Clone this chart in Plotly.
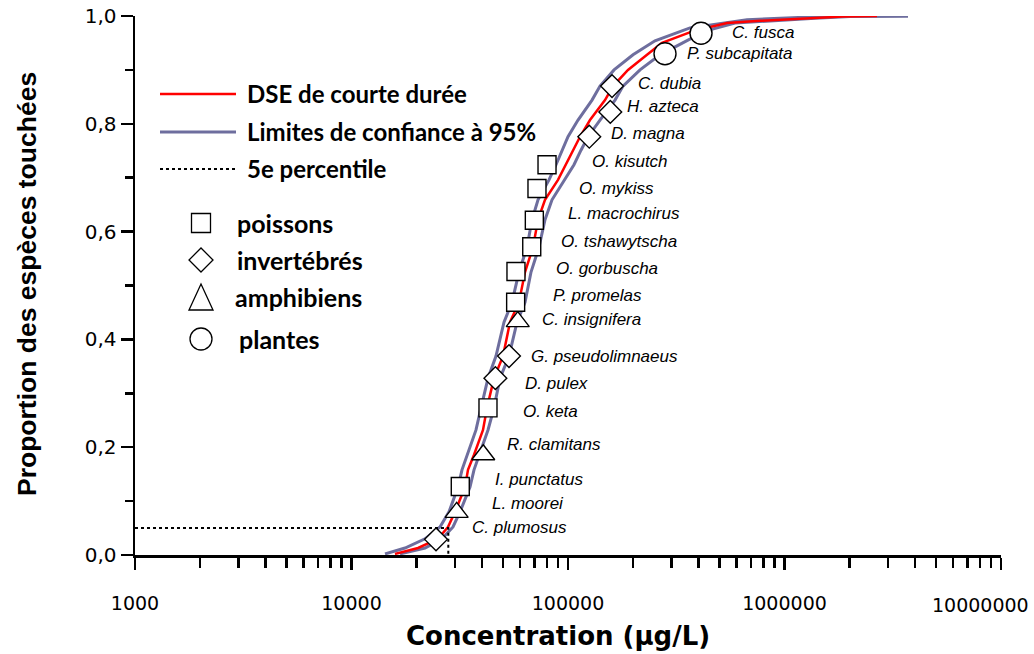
import numpy as np
import plotly.graph_objects as go

# ---------------- data ----------------
species = ["C. plumosus", "L. moorei", "I. punctatus", "R. clamitans", "O. keta",
           "D. pulex", "G. pseudolimnaeus", "C. insignifera", "P. promelas",
           "O. gorbuscha", "O. tshawytscha", "L. macrochirus", "O. mykiss",
           "O. kisutch", "D. magna", "H. azteca", "C. dubia", "P. subcapitata",
           "C. fusca"]
groups = ["invertébrés", "amphibiens", "poissons", "amphibiens", "poissons",
          "invertébrés", "invertébrés", "amphibiens", "poissons",
          "poissons", "poissons", "poissons", "poissons",
          "poissons", "invertébrés", "invertébrés", "invertébrés", "plantes",
          "plantes"]
conc = [24570, 30600, 31800, 40600, 42700, 46200, 53400, 58600, 57300,
        57500, 68000, 69900, 71900, 80000, 125400, 156800, 159700, 280600,
        411500]
prop = [0.029, 0.079, 0.127, 0.186, 0.273, 0.328, 0.369, 0.433, 0.469,
        0.526, 0.572, 0.621, 0.680, 0.724, 0.776, 0.822, 0.870, 0.930, 0.968]

dse_conc = [15880, 20290, 25080, 27900, 30070, 33440, 34520, 36800, 40500,
            42260, 45520, 50100, 53970, 59390, 63310, 68930, 72690, 78310,
            89920, 97900, 105460, 113620, 126380, 148250, 161460, 189290,
            231700, 271800, 377900, 542600, 770900, 1312000, 1863000, 2675000]
dse_prop = [0.002, 0.013, 0.030, 0.052, 0.080, 0.126, 0.158, 0.186, 0.232,
            0.273, 0.328, 0.369, 0.432, 0.469, 0.525, 0.571, 0.622, 0.659,
            0.696, 0.724, 0.751, 0.776, 0.807, 0.844, 0.870, 0.900,
            0.928, 0.950, 0.972, 0.987, 0.991, 0.996, 0.999, 1.0]

upper_conc = [14280, 17670, 21850, 25630, 28210, 31040, 32390, 34160, 37590,
              39650, 42710, 46500, 50630, 55130, 59390, 64670, 68200, 72690,
              81700, 88030, 93830, 100000, 111240, 129100, 140560, 163170,
              199650, 252200, 366000, 671300, 1459000, 3720000]
upper_prop = [0.002, 0.013, 0.030, 0.052, 0.080, 0.126, 0.158, 0.186, 0.232,
              0.273, 0.328, 0.369, 0.432, 0.469, 0.525, 0.571, 0.622, 0.659,
              0.696, 0.724, 0.751, 0.776, 0.807, 0.844, 0.870, 0.900,
              0.928, 0.954, 0.978, 0.993, 0.999, 1.0]

lower_conc = [16750, 21850, 26180, 29430, 31710, 35260, 36800, 38810, 42710,
              45520, 48530, 53400, 58140, 63310, 67480, 73470, 78310, 84360,
              96850, 106580, 114820, 123730, 140560, 164910, 179470, 215100,
              266000, 322300, 429300, 590800, 839100, 1383000, 2007000,
              2761000, 3720000]
lower_prop = [0.002, 0.013, 0.030, 0.052, 0.080, 0.126, 0.158, 0.186, 0.232,
              0.273, 0.328, 0.369, 0.432, 0.469, 0.525, 0.571, 0.622, 0.659,
              0.696, 0.724, 0.751, 0.776, 0.807, 0.844, 0.870, 0.900,
              0.928, 0.946, 0.972, 0.987, 0.991, 0.996, 0.999, 1.0, 1.0]

p5_conc = 28000
p5_prop = 0.05

x_tickvals = [1000, 10000, 100000, 1000000, 10000000]
x_ticktext = ["1000", "10000", "100000", "1000000", "10000000"]
y_tickvals = [0.0, 0.2, 0.4, 0.6, 0.8, 1.0]
y_ticktext = ["0,0", "0,2", "0,4", "0,6", "0,8", "1,0"]

x_title = "Concentration (µg/L)"
y_title = "Proportion des espèces touchées"
legend_lines = ["DSE de courte durée", "Limites de confiance à 95%", "5e percentile"]
legend_groups = ["poissons", "invertébrés", "amphibiens", "plantes"]

# ---------------- styling (layout only) ----------------
RED = "#FF0000"
BLUE = "#6E6E9E"
symbol_map = {"poissons": "square", "invertébrés": "diamond",
              "amphibiens": "triangle-up", "plantes": "circle"}
size_map = {"poissons": 18, "invertébrés": 17.5,
            "amphibiens": 20, "plantes": 22}
# label offsets in pixels (x right, y up) relative to each marker
label_dx = [34, 33, 33, 22, 33, 28, 20, 22, 35, 38, 27, 32, 40, 43, 20, 15, 24, 20, 29]
label_dy = [12, 9, 7, 10, -4, -5, 0, 2, 7, 3, 5, 7, 0, 3, 3, 5, 3, 0, 1]

# the page body margin is removed by a small post-script, so the figure
# fills the whole 1034 x 654 window
W, H = 1034, 654
ML, MR, MT, MB = 135, 33, 16, 99
PW, PH = W - ML - MR, H - MT - MB


def px(xw):
    return (xw - ML) / PW


def py(yw):
    return (H - MB - yw) / PH


TICKFONT = dict(family="DejaVu Sans", size=19, color="black")

fig = go.Figure()

fig.add_trace(go.Scatter(x=upper_conc, y=upper_prop, mode="lines",
                         line=dict(color=BLUE, width=3), hoverinfo="skip",
                         showlegend=False))
fig.add_trace(go.Scatter(x=lower_conc, y=lower_prop, mode="lines",
                         line=dict(color=BLUE, width=3), hoverinfo="skip",
                         showlegend=False))
fig.add_trace(go.Scatter(x=dse_conc, y=dse_prop, mode="lines",
                         line=dict(color=RED, width=2.5), hoverinfo="skip",
                         showlegend=False))
fig.add_trace(go.Scatter(x=[1000, p5_conc, p5_conc], y=[p5_prop, p5_prop, 0],
                         mode="lines",
                         line=dict(color="black", width=2, dash="dot"),
                         hoverinfo="skip", showlegend=False))
fig.add_trace(go.Scatter(
    x=conc, y=prop, mode="markers", text=species, showlegend=False,
    marker=dict(symbol=[symbol_map[g] for g in groups],
                size=[size_map[g] for g in groups], opacity=1,
                color="white", line=dict(color="black", width=1.4)),
    cliponaxis=False))

annotations = []
for s, c, p, dx, dy in zip(species, conc, prop, label_dx, label_dy):
    annotations.append(dict(x=np.log10(c), y=p, xref="x", yref="y",
                            text="<i>" + s + "</i>", showarrow=False,
                            xanchor="left", yanchor="middle",
                            xshift=dx, yshift=dy,
                            font=dict(family="Liberation Sans, Arial", size=17,
                                      color="black")))

# last x tick label (kept inside the page as in the reference)
annotations.append(dict(x=px(1031), y=py(605), xref="paper", yref="paper",
                        text=x_ticktext[-1], showarrow=False,
                        xanchor="right", yanchor="middle", font=TICKFONT))

# axis titles
annotations.append(dict(x=px(558), y=py(636), xref="paper", yref="paper",
                        text="<b>" + x_title + "</b>", showarrow=False,
                        xanchor="center", yanchor="middle",
                        font=dict(family="DejaVu Sans", size=26, color="black")))
annotations.append(dict(x=px(27), y=py(284), xref="paper", yref="paper",
                        text="<b>" + y_title + "</b>", showarrow=False,
                        textangle=-90, xanchor="center", yanchor="middle",
                        font=dict(family="Liberation Sans, Arial", size=26.5,
                                  color="black")))

LEGFONT1 = dict(family="Lato, Open Sans, sans-serif", size=24, color="black")
LEGFONT2 = dict(family="Lato, Open Sans, sans-serif", size=25, color="black")
shapes = []
# line legend
line_y = [94, 132, 169]
line_styles = [dict(color=RED, width=2.5), dict(color=BLUE, width=3),
               dict(color="black", width=2, dash="dot")]
for txt, yy, st in zip(legend_lines, line_y, line_styles):
    shapes.append(dict(type="line", xref="paper", yref="paper",
                       x0=px(160), x1=px(236), y0=py(yy), y1=py(yy), line=st))
    annotations.append(dict(x=px(245), y=py(yy - 1), xref="paper", yref="paper",
                            text="<b>" + txt + "</b>", showarrow=False,
                            xanchor="left", yanchor="middle", font=LEGFONT1))

# symbol legend
sym_y = [223, 260, 297, 339]
sym_tx = [235, 235, 233, 237]
sym_paths = {
    "poissons": dict(type="rect", x0=-9.5, x1=9.5, y0=-9.5, y1=9.5),
    "invertébrés": dict(type="path", path="M0,-12 L12,0 L0,12 L-12,0 Z"),
    "amphibiens": dict(type="path", path="M-12,-13 L12,-13 L0,13 Z"),
    "plantes": dict(type="circle", x0=-11, x1=11, y0=-11, y1=11),
}
for g, yy, tx in zip(legend_groups, sym_y, sym_tx):
    sh = dict(xref="paper", yref="paper", xsizemode="pixel", ysizemode="pixel",
              xanchor=px(201), yanchor=py(yy), line=dict(color="black", width=1.3),
              fillcolor="white")
    sh.update(sym_paths[g])
    shapes.append(sh)
    annotations.append(dict(x=px(tx), y=py(yy), xref="paper", yref="paper",
                            text="<b>" + g + "</b>", showarrow=False,
                            xanchor="left", yanchor="middle", font=LEGFONT2))

fig.update_layout(
    width=W, height=H,
    margin=dict(l=ML, r=MR, t=MT, b=MB, autoexpand=False),
    paper_bgcolor="white", plot_bgcolor="white",
    showlegend=False, hovermode=False,
    annotations=annotations, shapes=shapes,
    xaxis=dict(type="log", range=[3, 7], tickmode="array",
               tickvals=x_tickvals, ticktext=x_ticktext[:-1] + [""],
               ticks="outside", ticklen=12, tickwidth=2.5, tickcolor="black",
               showline=True, linewidth=2.5, linecolor="black",
               showgrid=False, zeroline=False, ticklabelstandoff=18,
               automargin=False, ticklabeloverflow="allow",
               tickfont=TICKFONT,
               minor=dict(ticks="outside", ticklen=10, tickwidth=2.5,
                          tickcolor="black", dtick="D1", showgrid=False)),
    yaxis=dict(range=[0, 1.0], tickmode="array",
               tickvals=y_tickvals, ticktext=y_ticktext,
               ticks="outside", ticklen=12, tickwidth=2.5, tickcolor="black",
               showline=True, linewidth=2.5, linecolor="black",
               showgrid=False, zeroline=False,
               automargin=False, ticklabeloverflow="allow",
               tickfont=dict(family="DejaVu Sans", size=20, color="black"),
               minor=dict(ticks="outside", ticklen=8, tickwidth=2.5,
                          tickcolor="black", dtick=0.1, tick0=0, showgrid=False)),
)

fig.write_html("out.html",
               config={"displayModeBar": False, "staticPlot": True},
               post_script="document.body.style.margin='0px';"
                           "document.body.style.overflow='hidden';")
